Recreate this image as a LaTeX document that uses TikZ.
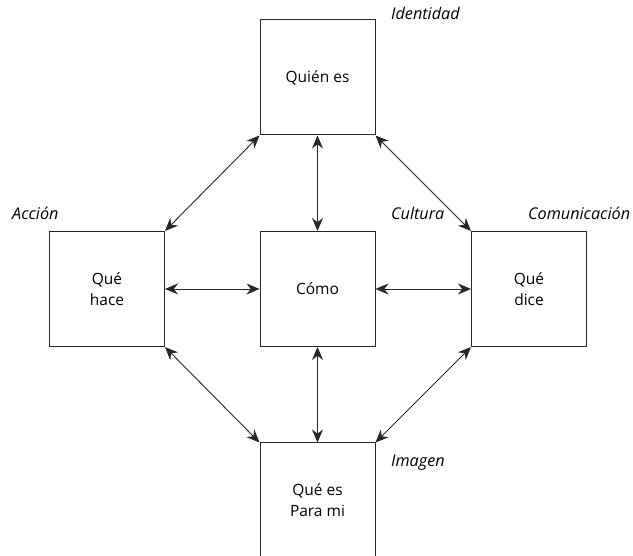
\documentclass[tikz,border=0pt]{standalone}
\usepackage{fontspec}
\setmainfont{Open Sans}
\usetikzlibrary{arrows.meta}
\definecolor{ink}{HTML}{232925}
\begin{document}
\begin{tikzpicture}[x=1pt,y=-1pt,
  box/.style={draw=ink,line width=1pt,minimum width=115pt,minimum height=115pt,inner sep=0pt,align=center,font=\fontsize{15.5}{21}\selectfont,text=black},
  lab/.style={font=\fontsize{16.2}{19}\selectfont\itshape,text=black,anchor=base west,inner sep=0pt},
  link/.style={draw=ink,line width=0.9pt,{Stealth[length=13pt,width=11pt]}-{Stealth[length=13pt,width=11pt]}}]
\useasboundingbox (0,0) rectangle (633,556);
\begin{scope}
\clip (0,0) rectangle (633,556);
\node[box] (top) at (317.5,77.5) {Quién es};
\node[box] (left) at (107,289) {Qué\\hace};
\node[box] (mid) at (317.5,289) {Cómo};
\node[box] (right) at (529,289) {Qué\\dice};
\node[box] (bot) at (317.5,500.5) {Qué es\\Para mi};
\end{scope}
\draw[link] (top.south west) -- (left.north east);
\draw[link] (top.south east) -- (right.north west);
\draw[link] (top.south) -- (mid.north);
\draw[link] (left.east) -- (mid.west);
\draw[link] (mid.east) -- (right.west);
\draw[link] (mid.south) -- (bot.north);
\draw[link] (left.south east) -- (bot.north west);
\draw[link] (right.south west) -- (bot.north east);
\node[lab] (l1) at (391,20) {Identidad};
\node[lab] (l2) at (12,220) {Acción};
\node[lab] (l3) at (391,220) {Cultura};
\node[lab] (l4) at (528,220) {Comunicación};
\node[lab] (l5) at (391,467) {Imagen};
\end{tikzpicture}
\end{document}
